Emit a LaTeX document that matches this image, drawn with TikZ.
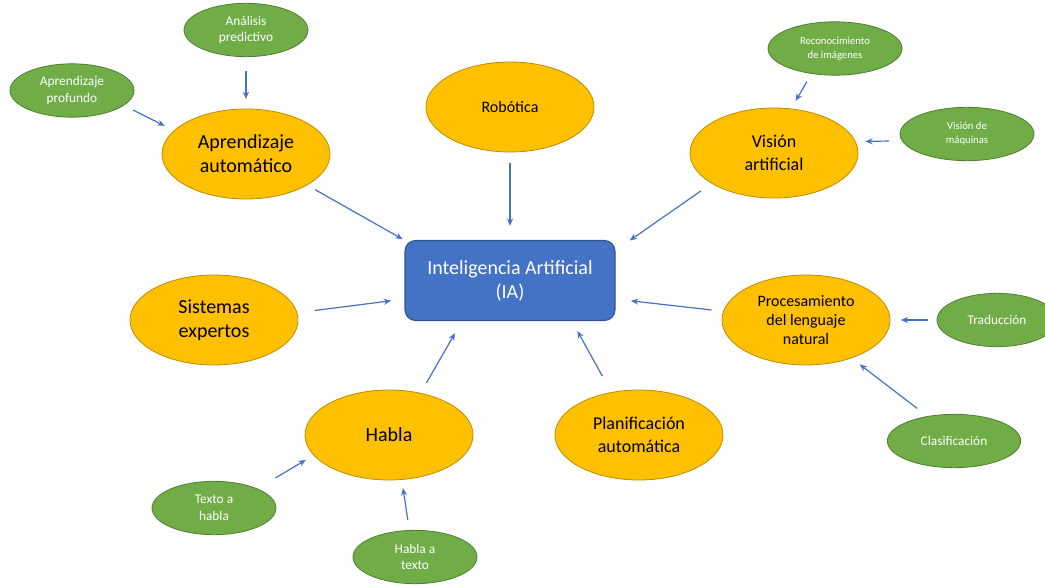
\documentclass[tikz,border=0pt]{standalone}
\usepackage{fontspec}
\setmainfont{Carlito}
\usetikzlibrary{arrows.meta,shapes.geometric}
\definecolor{iablue}{HTML}{4472C4}
\definecolor{iablueline}{HTML}{2F528F}
\definecolor{topicfill}{HTML}{FFC000}
\definecolor{topicline}{HTML}{BC8C00}
\definecolor{subfill}{HTML}{70AD47}
\definecolor{subline}{HTML}{507E32}
\tikzset{
 core/.style={rectangle,rounded corners=8pt,draw=iablueline,line width=.8pt,fill=iablue,text=white,minimum width=157.5pt,minimum height=60pt,align=center,inner sep=0,outer sep=0,font=\fontsize{15}{18}\selectfont},
 topic/.style={ellipse,draw=topicline,line width=.6pt,fill=topicfill,minimum width=126pt,minimum height=67.5pt,align=center,inner sep=0,outer sep=0,font=\fontsize{15}{18}\selectfont},
 subtopic/.style={ellipse,draw=subline,line width=.6pt,fill=subfill,text=white,minimum width=93pt,minimum height=40pt,align=center,inner sep=0,outer sep=0,font=\fontsize{10}{12.5}\selectfont},
 link/.style={draw=iablue,line width=.9pt,-{Stealth[length=5.5pt,width=4.5pt]},shorten <=7pt,shorten >=7pt}
}
\begin{document}
\begin{tikzpicture}[x=0.75pt,y=-0.75pt]
\useasboundingbox (0,0) rectangle (1045,585);
% centro
\node[core] (ia) at (510,280.5) {Inteligencia Artificial\\(IA)};
% temas
\node[topic] (aa) at (246,154) {Aprendizaje\\automático};
\node[topic,font=\fontsize{12}{15}\selectfont] (rob) at (510,107) {Robótica};
\node[topic,font=\fontsize{13.5}{17}\selectfont] (va) at (774,153) {Visión\\artificial};
\node[topic] (se) at (214,320) {Sistemas\\expertos};
\node[topic,font=\fontsize{12}{14.5}\selectfont] (pln) at (806,320) {Procesamiento\\del lenguaje\\natural};
\node[topic] (ha) at (389,435) {Habla};
\node[topic,font=\fontsize{13.5}{17}\selectfont] (pa) at (639,435) {Planificación\\automática};
% subtemas
\node[subtopic] (an) at (246,30) {Análisis\\predictivo};
\node[subtopic] (ap) at (72,90.5) {Aprendizaje\\profundo};
\node[subtopic,minimum width=100.5pt,font=\fontsize{8}{10.5}\selectfont] (ri) at (835,48.5) {Reconocimiento\\de imágenes};
\node[subtopic,minimum width=100.5pt,font=\fontsize{8}{10.5}\selectfont] (vm) at (967,134) {Visión de\\máquinas};
\node[subtopic,minimum width=90pt] (tr) at (997,320) {Traducción};
\node[subtopic,minimum width=100pt] (cl) at (954,441) {Clasificación};
\node[subtopic] (th) at (214,508) {Texto a\\habla};
\node[subtopic] (hat) at (415,557) {Habla a\\texto};
% flechas
\draw[link,shorten <=11pt,shorten >=7.5pt] (an) -- (aa);
\draw[link,shorten <=8pt,shorten >=8pt] (ap.-16) -- (aa.162);
\draw[link,shorten >=2pt] (aa.-27) -- (ia.north west);
\draw[link,shorten <=8pt,shorten >=11pt] (rob) -- (ia);
\draw[link,shorten <=10pt,shorten >=0pt] (va.206) -- ([xshift=11pt]ia.north east);
\draw[link] (ri.227) -- (va.69);
\draw[link,shorten <=10pt,shorten >=7.5pt] (vm.186) -- (va.8);
\draw[link,shorten <=13.5pt,shorten >=10.5pt] (se.5) -- (ia.190);
\draw[link,shorten <=9pt,shorten >=12pt] (pln.174) -- (ia.-10);
\draw[link,shorten <=6.5pt,shorten >=8pt] (tr) -- (pln);
\draw[link,shorten <=10pt,shorten >=8pt] (cl.137) -- (pln.-40);
\draw[link,shorten <=9pt,shorten >=11pt] (ha.53) -- (ia.220);
\draw[link,shorten <=14pt,shorten >=9pt] (pa.123) -- (ia.-33);
\draw[link,shorten <=16pt,shorten >=7pt] (th.24) -- (ha.195);
\draw[link,shorten <=8pt,shorten >=6.5pt] (hat.102) -- (ha.-74);
\end{tikzpicture}
\end{document}
